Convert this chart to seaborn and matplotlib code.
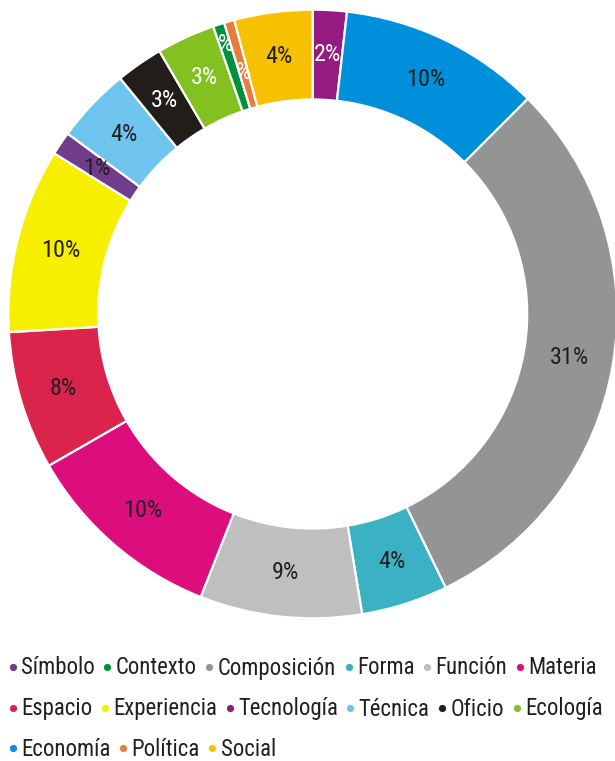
import matplotlib
matplotlib.use("Agg")
import matplotlib.pyplot as plt
import seaborn as sns
import numpy as np
from matplotlib.lines import Line2D

# Wedges in clockwise order starting at 12 o'clock
categories = ["Tecnología", "Economía", "Composición", "Forma", "Función",
              "Materia", "Espacio", "Experiencia", "Símbolo", "Técnica",
              "Oficio", "Ecología", "Contexto", "Política", "Social"]
shares = [1.8, 10.7, 30.3, 4.6, 8.6, 10.7, 7.35, 9.8, 1.25, 4.0,
          2.5, 3.1, 0.6, 0.55, 4.15]
labels = ["2%", "10%", "31%", "4%", "9%", "10%", "8%", "10%", "1%", "4%",
          "3%", "3%", "%", "%", "4%"]
colors = ["#951B81", "#008FDB", "#949494", "#3AB2C3", "#C0BFC0",
          "#DC0E7D", "#DA244C", "#F6F000", "#6F3D8C", "#6EC3EF",
          "#211D19", "#82C120", "#00913F", "#E87C3E", "#F6C100"]
white_labels = ["Tecnología", "Oficio", "Ecología", "Contexto", "Política"]
label_radius = {"Contexto": 0.93, "Política": 0.825}

legend_rows = [
    ["Símbolo", "Contexto", "Composición", "Forma", "Función", "Materia"],
    ["Espacio", "Experiencia", "Tecnología", "Técnica", "Oficio", "Ecología"],
    ["Economía", "Política", "Social"],
]

sns.set_theme(style="white")
plt.rcParams["font.family"] = ["Roboto Condensed", "Noto Sans Condensed",
                               "Liberation Sans", "DejaVu Sans"]
plt.rcParams["font.stretch"] = "condensed"

W, H = 615, 761
fig = plt.figure(figsize=(W / 100, H / 100), dpi=100)
cx, cy, R = 312.7, 314.0, 304.3
ax = fig.add_axes([(cx - R) / W, (H - cy - R) / H, 2 * R / W, 2 * R / H])

wedges, _ = ax.pie(shares, colors=colors, startangle=90, counterclock=False,
                   radius=1.0,
                   wedgeprops=dict(width=0.295, edgecolor="white", linewidth=1.6))
ax.set_xlim(-1, 1)
ax.set_ylim(-1, 1)
ax.set_aspect("equal")
ax.axis("off")

for w, cat, lab in zip(wedges, categories, labels):
    ang = np.deg2rad((w.theta1 + w.theta2) / 2)
    r = label_radius.get(cat, 0.855)
    ax.text(r * np.cos(ang), r * np.sin(ang), lab, ha="center", va="center",
            fontsize=17.5, color="white" if cat in white_labels else "#231F20")

cmap = dict(zip(categories, colors))
row_y = [668, 709, 749]
for row, y in zip(legend_rows, row_y):
    handles = [Line2D([], [], linestyle="none", marker="o", markersize=5.2,
                      markerfacecolor=cmap[c], markeredgecolor="none") for c in row]
    fig.legend(handles, row, loc="center left",
               bbox_to_anchor=(0.015, 1 - y / H), ncol=len(row), frameon=False,
               fontsize=16.4, handlelength=0.3, handletextpad=0.22,
               columnspacing=0.4, borderaxespad=0, borderpad=0,
               labelcolor="#231F20")

fig.savefig("out.png", dpi=100)
